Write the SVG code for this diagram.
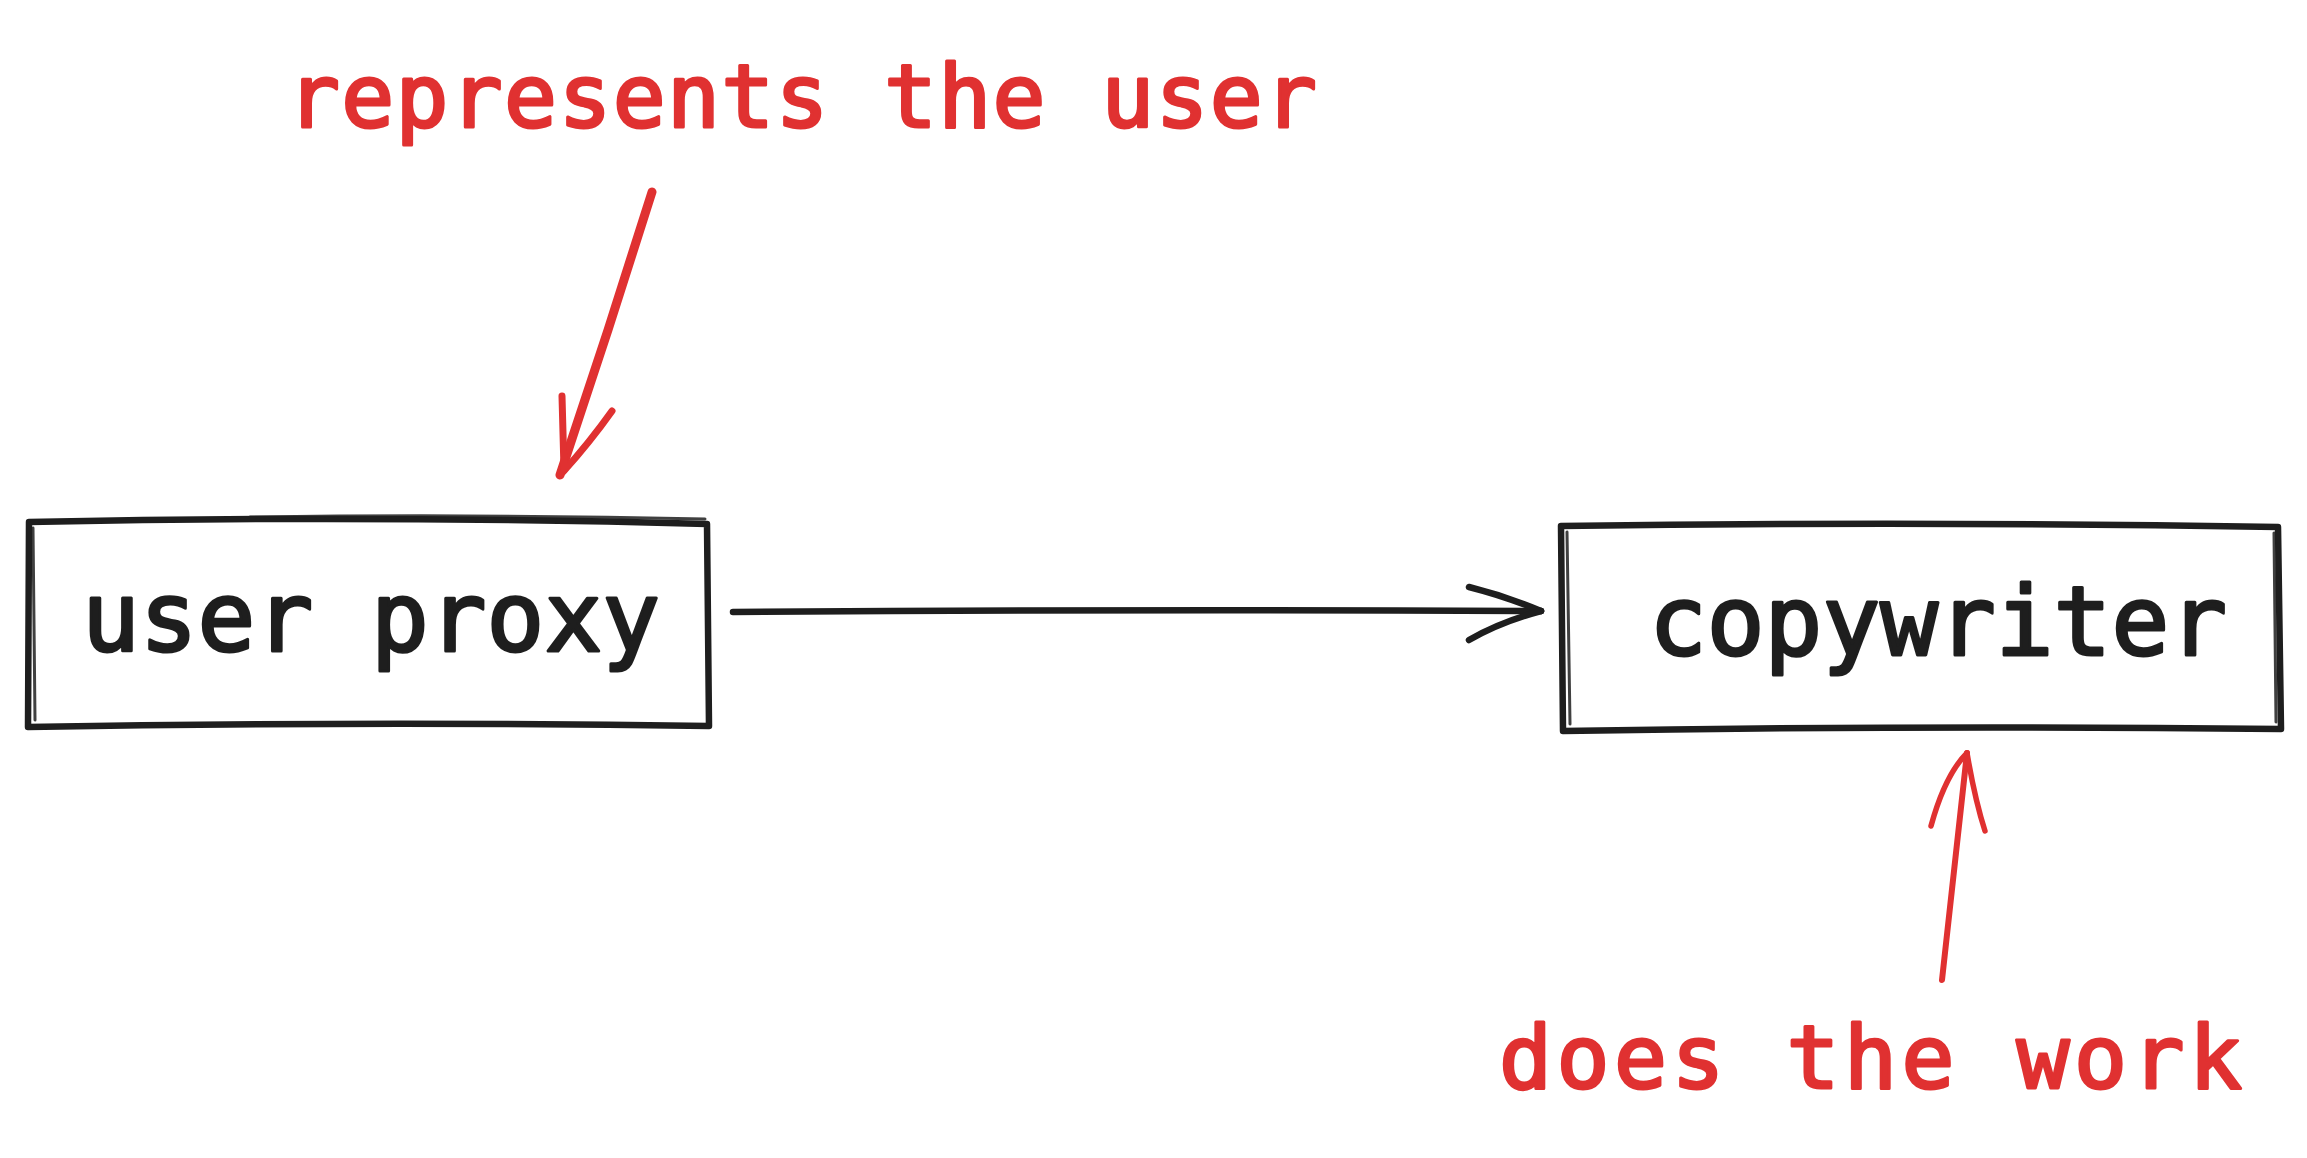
<svg xmlns="http://www.w3.org/2000/svg" width="2307" height="1158" viewBox="0 0 2307 1158">
  <style>
    .box { fill: #ffffff; stroke: #1e1e1e; stroke-width: 6.5; stroke-linejoin: round; stroke-linecap: round; }
    .box2 { fill: none; stroke: #1e1e1e; stroke-width: 3; stroke-linecap: round; opacity: 0.85; }
    .lbl { font-family: "DejaVu Sans Mono", "Liberation Mono", monospace; font-size: 96px; fill: #1e1e1e; stroke: #1e1e1e; stroke-width: 3; stroke-linejoin: round; }
    .note { font-family: "DejaVu Sans Mono", "Liberation Mono", monospace; font-size: 88px; fill: #e03131; stroke: #e03131; stroke-width: 3; stroke-linejoin: round; }
    .edge { fill: none; stroke: #1e1e1e; stroke-width: 6.5; stroke-linecap: round; stroke-linejoin: round; }
    .red { fill: none; stroke: #e03131; stroke-linecap: round; stroke-linejoin: round; }
  </style>
  <rect width="2307" height="1158" fill="#ffffff"/>

  <g id="node-user-proxy">
    <path class="box" d="M29,522 Q370,515 707,524 L709,726 Q370,721 28,727 Z"/>
    <path class="box2" d="M250,517 Q480,514 705,519"/>
    <path class="box2" d="M33,528 L35,720"/>
    <text class="lbl" x="371" y="651" text-anchor="middle">user proxy</text>
  </g>

  <g id="node-copywriter">
    <path class="box" d="M1561,526 Q1920,521 2278,527 L2281,729 Q1920,725 1563,731 Z"/>
    <path class="box2" d="M1567,532 L1570,724"/>
    <path class="box2" d="M2274,533 L2276,722"/>
    <text class="lbl" x="1938" y="655" text-anchor="middle">copywriter</text>
  </g>

  <g id="note-represents">
    <text class="note" x="287" y="127" textLength="1030" lengthAdjust="spacing">represents the user</text>
  </g>

  <g id="note-does-work">
    <text class="note" x="1499" y="1088" textLength="743" lengthAdjust="spacing">does the work</text>
  </g>

  <g id="connectors">
    <g id="edge-proxy-to-copywriter">
      <path class="edge" d="M733,612 Q1140,609 1541,611"/>
      <path class="edge" d="M1469,587 Q1505,596 1541,611"/>
      <path class="edge" d="M1469,640 Q1500,622 1541,611"/>
    </g>
    <g id="edge-represents-note">
      <path class="red" stroke-width="9" d="M652,192 L608,330 L560,475"/>
      <path class="red" stroke-width="7" d="M562,396 L564,470"/>
      <path class="red" stroke-width="7" d="M612,411 Q590,442 563,472"/>
    </g>
    <g id="edge-does-work-note">
      <path class="red" stroke-width="6" d="M1942,980 L1967,753"/>
      <path class="red" stroke-width="5.5" d="M1931,826 Q1945,775 1967,753"/>
      <path class="red" stroke-width="5.5" d="M1985,831 Q1975,800 1967,753"/>
    </g>
  </g>
</svg>
